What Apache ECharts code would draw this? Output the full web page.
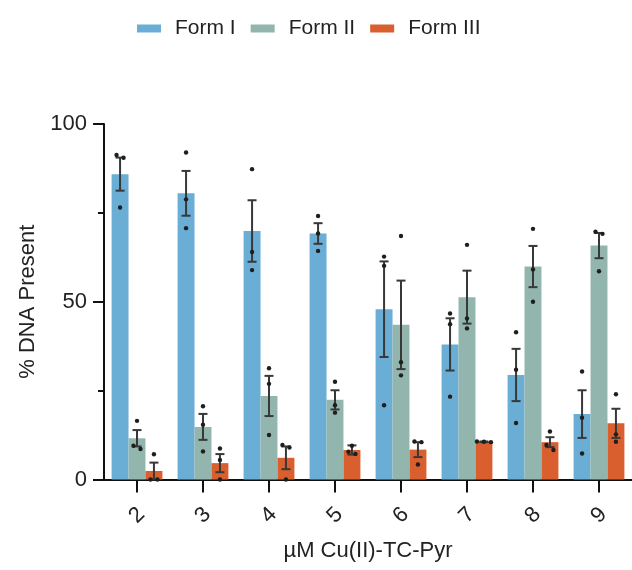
<!DOCTYPE html>
<html>
<head>
<meta charset="utf-8">
<script src="https://cdn.jsdelivr.net/npm/echarts@6/dist/echarts.min.js"></script>
<style>
  html, body { margin: 0; padding: 0; background: #fff; }
  #chart { width: 632px; height: 570px; }
</style>
</head>
<body>
<div id="chart"></div>
<script>
// Concentrations (µM) on the category axis
const categories = ['2', '3', '4', '5', '6', '7', '8', '9'];
const seriesNames = ['Form I', 'Form II', 'Form III'];

// Mean % DNA for each form
const formIMean   = [85.9, 80.5, 69.9, 69.2, 47.9, 38.0, 29.4, 18.4];
const formIIMean  = [11.6, 14.8, 23.5, 22.4, 43.5, 51.3, 59.9, 65.8];
const formIIIMean = [2.4, 4.6, 6.1, 8.3, 8.4, 10.6, 10.5, 15.8];

// Standard error of the mean
const formIErr   = [4.65, 6.3, 8.65, 2.9, 13.45, 7.35, 7.35, 6.7];
const formIIErr  = [2.3, 3.65, 5.65, 2.7, 12.45, 7.45, 5.8, 3.55];
const formIIIErr = [2.35, 2.55, 3.2, 1.3, 2.1, 0.1, 1.4, 4.1];

// Individual replicates (n = 3)
const formIPoints = [
  [91.3, 90.5, 76.5], [92.0, 78.8, 70.7], [87.3, 64.0, 58.9], [74.1, 69.2, 64.3],
  [62.7, 60.1, 20.9], [46.7, 43.7, 23.3], [41.4, 30.9, 15.9], [30.4, 17.4, 7.3]
];
const formIIPoints = [
  [16.5, 9.5, 8.6], [20.6, 15.4, 7.9], [31.3, 26.9, 12.5], [27.5, 20.9, 18.8],
  [68.5, 33.0, 29.3], [66.0, 45.3, 42.5], [70.5, 59.1, 50.0], [69.7, 69.1, 58.6]
];
const formIIIPoints = [
  [7.1, 0, 0], [8.7, 5.5, 0], [9.7, 9.0, 0], [9.5, 7.8, 7.2],
  [10.7, 10.5, 4.2], [10.6, 10.7, 10.5], [13.5, 9.7, 8.3], [24.0, 12.7, 10.6]
];

// Y axis ticks
const yMin = 0, yMax = 100, yStep = 50;

const colors = ['#6aaed6', '#92b6ad', '#d95f2e'];
const means = [formIMean, formIIMean, formIIIMean];
const errs = [formIErr, formIIErr, formIIIErr];
const points = [formIPoints, formIIPoints, formIIIPoints];

const CAT_GAP = 0.23;
const FONT = "'Liberation Sans', Arial, sans-serif";
const INK = '#222';

const chart = echarts.init(document.getElementById('chart'), null, { renderer: 'canvas' });

// Error bars and replicate dots, drawn on top of each bar
function overlaySeries(si) {
  return {
    type: 'custom',
    name: seriesNames[si] + ' replicates',
    silent: true,
    z: 5,
    data: categories.map((c, i) => [i, means[si][i], errs[si][i]].concat(points[si][i])),
    renderItem(params, api) {
      const i = api.value(0);
      const m = api.value(1);
      const e = api.value(2);
      const vals = [api.value(3), api.value(4), api.value(5)];
      const catW = api.size([1, 0])[0];
      const bw = catW * (1 - CAT_GAP) / 3;
      const dx = (si - 1) * bw;
      const hi = api.coord([i, m + e]);
      const lo = api.coord([i, Math.max(0, m - e)]);
      const x = hi[0] + dx;
      const cap = 4.5;
      const lineStyle = { stroke: '#383838', lineWidth: 2 };
      const children = [
        { type: 'line', shape: { x1: x, y1: hi[1], x2: x, y2: lo[1] }, style: lineStyle },
        { type: 'line', shape: { x1: x - cap, y1: hi[1], x2: x + cap, y2: hi[1] }, style: lineStyle },
        { type: 'line', shape: { x1: x - cap, y1: lo[1], x2: x + cap, y2: lo[1] }, style: lineStyle }
      ];
      // spread dots that would overlap vertically
      const pts = vals.map(v => ({ v, y: api.coord([i, v])[1] })).sort((a, b) => a.y - b.y);
      const clusters = [];
      pts.forEach(p => {
        const last = clusters[clusters.length - 1];
        if (last && p.y - last[last.length - 1].y < 6) last.push(p);
        else clusters.push([p]);
      });
      clusters.forEach(cl => {
        cl.forEach((p, k) => {
          const off = (k - (cl.length - 1) / 2) * 7;
          children.push({
            type: 'circle',
            shape: { cx: x + off, cy: p.y, r: 2.2 },
            style: { fill: '#1e1e1e' }
          });
        });
      });
      return { type: 'group', children };
    }
  };
}

const barSeries = seriesNames.map((name, si) => ({
  type: 'bar',
  name,
  data: means[si],
  barGap: '0%',
  barCategoryGap: (CAT_GAP * 100) + '%',
  itemStyle: { color: colors[si] },
  emphasis: { disabled: true },
  z: 2
}));

chart.setOption({
  animation: false,
  color: colors,
  legend: {
    data: seriesNames,
    left: 132,
    top: 13,
    itemWidth: 24,
    itemHeight: 8,
    itemGap: 15,
    icon: 'rect',
    textStyle: { fontFamily: FONT, fontSize: 21, color: INK, padding: [0, 0, 0, 9] }
  },
  grid: { left: 104, top: 124, width: 532.5, bottom: 90.5, containLabel: false },
  xAxis: {
    type: 'category',
    data: categories,
    name: 'µM Cu(II)-TC-Pyr',
    nameLocation: 'middle',
    nameGap: 60,
    nameTextStyle: { fontFamily: FONT, fontSize: 22, color: INK },
    axisLine: { show: true, lineStyle: { color: '#111', width: 2 } },
    axisTick: { show: true, alignWithLabel: true, length: 13, lineStyle: { color: '#111', width: 2 } },
    axisLabel: {
      rotate: 45,
      align: 'center',
      verticalAlign: 'middle',
      margin: 36,
      fontFamily: FONT,
      fontSize: 22,
      color: INK
    },
    splitLine: { show: false }
  },
  yAxis: {
    type: 'value',
    min: yMin,
    max: yMax,
    interval: yStep,
    name: '% DNA Present',
    nameLocation: 'middle',
    nameGap: 64,
    nameTextStyle: { fontFamily: FONT, fontSize: 22, color: INK },
    axisLine: { show: true, lineStyle: { color: '#111', width: 2 } },
    axisTick: { show: true, length: 11, lineStyle: { color: '#111', width: 2 } },
    minorTick: { show: true, splitNumber: 2, length: 6, lineStyle: { color: '#111', width: 2 } },
    axisLabel: { margin: 17, fontFamily: FONT, fontSize: 22, color: INK },
    splitLine: { show: false }
  },
  series: barSeries.concat(seriesNames.map((n, si) => overlaySeries(si)))
});
</script>
</body>
</html>
